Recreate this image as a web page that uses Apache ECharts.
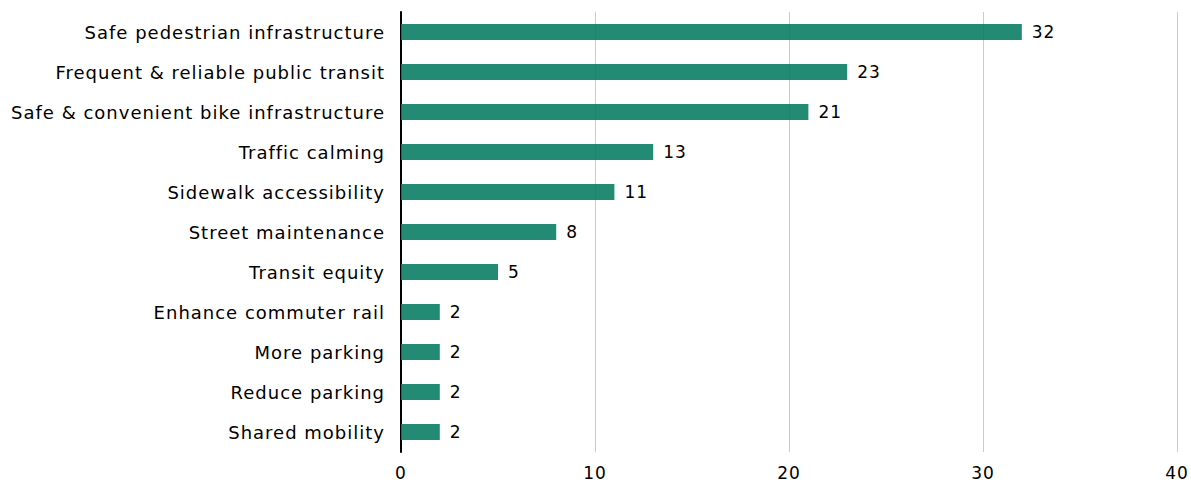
<!DOCTYPE html>
<html><head><meta charset="utf-8">
<script src="https://cdn.jsdelivr.net/npm/echarts@6/dist/echarts.min.js"></script>
<style>html,body{margin:0;padding:0;background:#fff}#c{width:1191px;height:485px}#c text{letter-spacing:1px}</style>
</head><body><div id="c"></div>
<script>
const categories = ["Safe pedestrian infrastructure","Frequent & reliable public transit","Safe & convenient bike infrastructure","Traffic calming","Sidewalk accessibility","Street maintenance","Transit equity","Enhance commuter rail","More parking","Reduce parking","Shared mobility"];
const values = [32,23,21,13,11,8,5,2,2,2,2];
const xTicks = [0,10,20,30,40];

const FONT = 'DejaVu Sans';
const chart = echarts.init(document.getElementById('c'), null, {renderer:'svg'});
chart.setOption({
  animation:false,
  grid:{left:401,right:14,top:12,bottom:33},
  xAxis:{type:'value',min:0,max:40,interval:10,
    axisLine:{show:false},axisTick:{show:false},
    splitLine:{show:true,lineStyle:{color:'#cccccc',width:1}},
    axisLabel:{color:'#000',fontFamily:FONT,fontSize:17,margin:12,
      formatter:v=>xTicks.includes(v)?String(v):''}},
  yAxis:{type:'category',data:categories,inverse:true,
    axisLine:{show:true,lineStyle:{color:'#000',width:2}},
    axisTick:{show:false},
    axisLabel:{color:'#000',fontFamily:FONT,fontSize:18,margin:16}},
  series:[{type:'bar',data:values,barWidth:16,
    itemStyle:{color:'rgba(11,125,101,0.9)'},
    label:{show:true,position:'right',distance:10,color:'#000',fontFamily:FONT,fontSize:17}}]
});
</script></body></html>
